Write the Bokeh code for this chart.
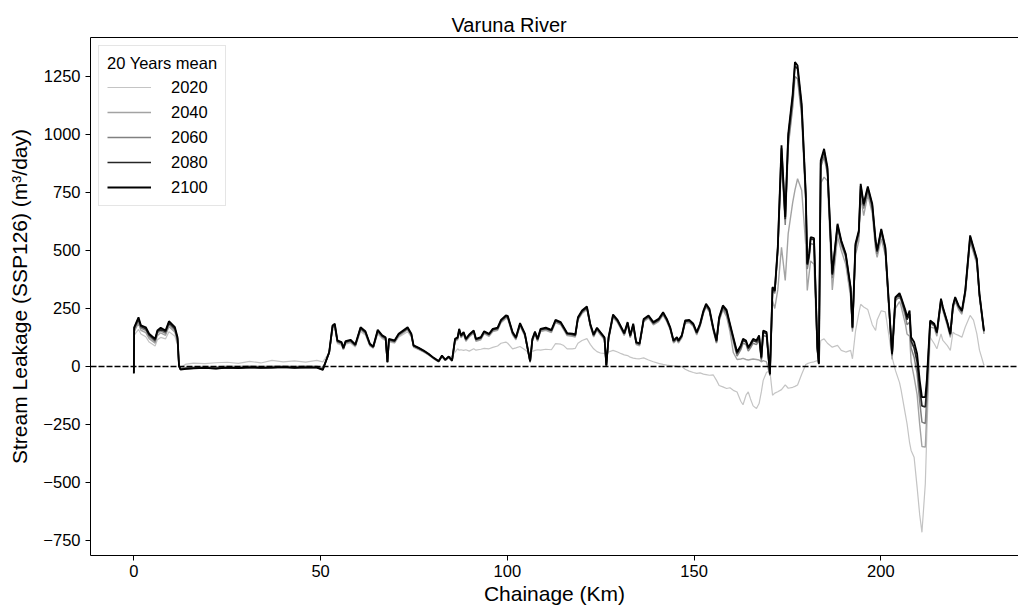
from bokeh.plotting import figure
from bokeh.models import LinearAxis, FixedTicker, Span, Range1d
from bokeh.embed import file_html
from bokeh.resources import INLINE

# Chainage along the river (km)
chainage_km = [
    0, 0.1, 1.25, 1.9, 3.2, 4.1, 5.7, 6.3, 7.2, 8.5, 9.4, 11.0, 11.7, 12.1, 12.5,
    14, 16, 19, 22, 25, 28, 31, 34, 37, 40, 43, 46, 49, 50.6,
    52.3, 53.2, 53.8, 54.5, 55.6, 56.1, 56.7, 58.0, 59.3, 60.7,
    62.0, 63.2, 64.1, 65.3, 66.5, 67.4, 67.9, 68.3, 69.8, 70.9,
    73.3, 74.3, 74.9, 76.3, 77.6, 78.9, 80.3, 81.6, 82.5, 83.4, 84.3, 85.2,
    86.0, 86.7, 87.1, 87.6, 88.3, 88.9, 89.8, 91.0, 91.6, 92.9,
    93.8, 95.1, 96.1, 97.4, 98.3, 99.6, 100.1, 101.4, 102.3, 103.4,
    104.7, 106.1, 106.7, 107.4, 108.1, 108.9, 110.3, 111.8, 112.9, 114.3,
    115.1, 116.0, 117.4, 118.2, 118.9, 120.0, 121.3, 122.2, 123.1, 124.0,
    124.9, 126.0, 126.5, 127.1, 128.3, 129.5, 130.5, 131.3, 132.2, 132.9,
    133.7, 134.5, 135.4, 136.5, 137.8, 139.1, 140.5, 141.7, 142.7, 143.6,
    144.5, 145.4, 145.8, 146.7, 147.6, 148.7, 149.8, 150.7, 151.6, 152.5,
    153.2, 154.1, 155.1, 156.0, 156.7, 157.7, 158.7, 159.6, 160.5, 161.5,
    162.5, 163.1, 163.9, 164.5, 165.1, 165.8, 166.7, 167.4, 168.0, 168.5,
    169.4, 170.3,
    171.0, 171.6, 172.4, 173.4, 174.4, 175.2, 176.4, 177.0, 177.7, 178.8,
    179.9, 180.3, 180.8, 181.2, 182.1, 183.0, 183.4, 183.9, 184.8, 185.7,
    187.0, 188.4, 189.4, 190.6, 191.9, 192.4, 193.2, 194.1, 194.6, 195.4,
    196.5, 197.7, 198.6, 199.0, 200.1, 201.2, 203.0, 203.9, 205.0, 205.4,
    206.6, 207.0, 207.7, 208.1, 208.9, 209.7, 210.4, 211.0, 211.9, 212.3,
    213.2, 214.3, 215.0, 216.1, 216.6, 217.8, 218.6, 219.3, 219.9, 220.8,
    221.7, 222.6, 223.9, 224.8, 225.7, 226.4, 227.6,
]

# Stream leakage, 20-year means (m3/day)
leak_2020 = [
    -15, 135, 160, 140, 128, 105, 88, 115, 125, 119, 150, 130, 92, 0, -5,
    10, 14, 12, 16, 18, 13, 22, 15, 26, 20, 24, 19, 26, 20,
    60, 155, 162, 98, 92, 72, 96, 101, 84, 150,
    135, 88, 78, 140, 120, 112, 20, 106, 100, 126,
    150, 126, 82, 72, 62, 50, 35, 24, 42, 30, 40, 45,
    62, 76, 70, 72, 69, 72, 66, 76, 70, 74,
    78, 76, 82, 88, 100, 105, 100, 76, 80, 86,
    72, 55, 65, 69, 72, 70, 74, 72, 98, 96,
    90, 76, 76, 78, 100, 112, 120, 95, 76, 64,
    58, 56, 52, 62, 69, 62, 55, 50, 47, 40,
    36, 34, 33, 37, 28, 20, 13, 9, 6, 4,
    2, 0, -2, 0, -12, -20, -26, -30, -28, -33,
    -35, -38, -36, -60, -82, -88, -95, -92, -103, -110,
    -150, -165, -124, -110, -140, -170, -181, -160, -110, -60,
    -25, -20,
    -124, -115, -109, -100, -79, -94, -90, -86, -80, -34,
    8, 12, 15, 17, 20, 25, 12, 112, 119, 100,
    83, 91, 69, 62, 69, 33, 150, 230, 268, 256,
    245, 180, 155, 200, 240, 235, 40, -17, -70, -100,
    -210, -246, -330, -362, -391, -520, -640, -715, -506, -290,
    126, 98, 76, 140, 112, 90, 69, 148, 140, 134,
    126, 170, 220, 200, 140, 70, 5,
]

leak_2040 = [
    -22, 150, 186, 156, 146, 120, 100, 133, 145, 134, 172, 147, 106, -2, -8,
    -4, -2, 0, -2, 1, 0, 2, 0, 1, 2, 0, 2, 1, -5,
    56, 165, 171, 103, 96, 73, 100, 105, 87, 157,
    141, 90, 80, 147, 124, 116, 16, 110, 103, 131,
    158, 131, 84, 74, 63, 50, 33, 20, 42, 26, 38, 23,
    108, 115, 150, 123, 137, 108, 127, 144, 108, 115,
    141, 130, 150, 156, 189, 207, 205, 136, 115, 175,
    130, 16, 108, 138, 108, 150, 156, 146, 189, 179,
    158, 133, 130, 127, 200, 228, 246, 172, 127, 156,
    136, 115, 0, 115, 211, 189, 158, 133, 179, 123,
    172, 94, 89, 193, 208, 179, 193, 221, 193, 158,
    101, 115, 101, 123, 186, 189, 172, 136, 172, 228,
    256, 235, 156, 100, 195, 245, 215, 150, 60, 30,
    32, 35, 30, 28, 30, 32, 30, 28, 20, 25,
    20, -40,
    284, 250, 330, 514, 371, 574, 707, 760, 809, 760,
    520, 328, 400, 455, 440, 60, 10, 790, 816, 800,
    330, 560, 500, 440, 300, 150, 480, 540, 730, 650,
    740, 660, 500, 470, 550, 480, 30, 250, 280, 260,
    180, 140, 130, 20, -46, -120, -250, -345, -348, -200,
    170, 165, 130, 270, 240, 175, 125, 245, 280, 245,
    225, 305, 535, 490, 440, 295, 140,
]

leak_2060 = [
    -25, 158, 196, 165, 156, 129, 107, 143, 154, 143, 182, 156, 114, 0, -10,
    -8, -6, -5, -7, -4, -5, -3, -5, -4, -2, -4, -3, -3, -10,
    58, 169, 176, 106, 99, 76, 103, 109, 90, 161,
    145, 93, 82, 151, 128, 120, 17, 113, 106, 135,
    162, 135, 87, 76, 65, 52, 35, 21, 44, 27, 40, 24,
    113, 120, 156, 128, 142, 113, 132, 149, 113, 120,
    146, 135, 156, 161, 194, 213, 211, 142, 120, 180,
    135, 20, 113, 144, 113, 156, 161, 152, 194, 184,
    163, 138, 135, 132, 205, 234, 251, 177, 132, 161,
    142, 120, 3, 120, 217, 194, 163, 138, 184, 128,
    177, 99, 94, 198, 213, 184, 198, 226, 198, 163,
    106, 120, 106, 128, 191, 194, 177, 142, 177, 233,
    261, 240, 160, 103, 200, 250, 228, 165, 108, 45,
    72, 100, 95, 66, 80, 100, 94, 115, 25, 135,
    128, -38,
    330, 315, 490, 900, 610, 950, 1120, 1250, 1240, 1080,
    710, 420, 465, 530, 525, 75, 10, 860, 905, 830,
    380, 595, 525, 470, 330, 160, 510, 565, 765, 680,
    755, 680, 525, 485, 575, 500, 45, 285, 300, 285,
    215, 180, 190, 80, 40, -30, -150, -240, -246, -130,
    185, 175, 140, 282, 248, 183, 133, 254, 290, 254,
    233, 318, 550, 502, 452, 305, 148,
]

leak_2080 = [
    -28, 165, 205, 172, 163, 136, 114, 150, 161, 150, 189, 163, 120, 2, -12,
    -9, -7, -6, -8, -5, -6, -4, -5, -5, -3, -5, -4, -4, -13,
    60, 173, 180, 109, 102, 78, 106, 112, 92, 165,
    148, 95, 84, 154, 131, 123, 18, 116, 109, 138,
    165, 138, 89, 78, 67, 53, 36, 22, 45, 28, 41, 25,
    117, 123, 159, 131, 145, 117, 135, 152, 117, 123,
    149, 138, 159, 164, 197, 216, 214, 145, 123, 183,
    138, 22, 116, 147, 116, 159, 164, 155, 197, 187,
    166, 141, 138, 135, 208, 237, 254, 180, 135, 164,
    145, 123, 4, 123, 220, 197, 166, 141, 187, 131,
    180, 102, 97, 201, 216, 187, 201, 229, 201, 166,
    109, 123, 109, 131, 194, 197, 180, 145, 180, 236,
    265, 244, 165, 108, 207, 257, 238, 178, 120, 56,
    85, 112, 105, 77, 92, 112, 105, 127, 35, 148,
    141, -35,
    338, 324, 508, 940, 635, 990, 1160, 1296, 1282, 1118,
    735, 438, 480, 550, 546, 80, 11, 878, 928, 850,
    395, 608, 537, 480, 338, 166, 522, 579, 778, 694,
    768, 694, 537, 495, 587, 508, 52, 294, 310, 293,
    232, 202, 225, 110, 80, 20, -95, -170, -175, -90,
    192, 180, 145, 288, 252, 188, 138, 259, 295, 259,
    238, 324, 559, 508, 459, 310, 152,
]

leak_2100 = [
    -30, 169, 212, 177, 169, 141, 119, 155, 167, 155, 195, 169, 126, 4, -14,
    -10, -8, -6, -9, -5, -7, -4, -6, -5, -3, -6, -4, -5, -15,
    62, 177, 184, 112, 105, 80, 109, 115, 95, 169,
    152, 98, 86, 158, 134, 126, 19, 119, 112, 141,
    169, 141, 91, 80, 69, 55, 37, 23, 47, 29, 43, 26,
    119, 126, 162, 134, 148, 119, 138, 155, 119, 126,
    152, 141, 162, 167, 201, 220, 218, 148, 126, 187,
    141, 23, 119, 150, 119, 162, 167, 158, 201, 191,
    169, 144, 141, 138, 212, 241, 259, 184, 138, 167,
    148, 126, 4, 126, 224, 201, 169, 144, 191, 134,
    184, 105, 100, 205, 220, 191, 205, 234, 205, 169,
    112, 126, 112, 134, 198, 201, 184, 148, 184, 241,
    270, 249, 169, 112, 212, 263, 244, 184, 126, 62,
    91, 119, 112, 83, 98, 119, 112, 134, 40, 155,
    148, -32,
    342, 328, 514, 953, 644, 1003, 1175, 1312, 1297, 1132,
    744, 443, 486, 557, 553, 83, 12, 888, 938, 859,
    400, 615, 543, 486, 342, 169, 529, 586, 787, 701,
    776, 701, 543, 500, 593, 514, 55, 299, 316, 299,
    241, 213, 241, 126, 105, 55, -60, -132, -132, -60,
    198, 184, 148, 292, 256, 191, 141, 263, 299, 263,
    241, 328, 565, 514, 464, 313, 155,
]

series_labels = ["2020", "2040", "2060", "2080", "2100"]
series_values = [leak_2020, leak_2040, leak_2060, leak_2080, leak_2100]
series_colors = ["#c4c4c4", "#a3a3a3", "#808080", "#262626", "#000000"]
series_widths = [1.2, 1.4, 1.5, 1.7, 1.8]

x_ticks = [0, 50, 100, 150, 200]
y_ticks = [-750, -500, -250, 0, 250, 500, 750, 1000, 1250]

FONT = "Liberation Sans"

p = figure(
    width=1018, height=613,
    output_backend="svg", toolbar_location=None,
    x_range=Range1d(-11.6, 236.85), y_range=Range1d(-815, 1418),
    min_border_left=90, min_border_right=0,
    min_border_top=37, min_border_bottom=58,
    background_fill_color="white", border_fill_color="white",
)
p.outline_line_color = None
p.grid.visible = False

# Title
p.title.text = "Varuna River"
p.title.text_font = FONT
p.title.text_font_size = "20px"
p.title.text_font_style = "normal"
p.title.text_color = "black"
p.title.align = "left"
p.title.offset = 361
p.title.standoff = 4

for label, vals, col, lw in zip(series_labels, series_values, series_colors, series_widths):
    p.line(chainage_km, vals, line_color=col, line_width=lw, legend_label=label)

zero_line = Span(location=0, dimension="width", line_color="black",
                 line_width=1.5, line_dash="6 2")
p.add_layout(zero_line)

# Axes
for ax in (p.xaxis[0], p.yaxis[0]):
    ax.axis_line_color = "black"
    ax.axis_line_width = 1
    ax.major_tick_line_color = "black"
    ax.major_tick_out = 5
    ax.major_tick_in = 0
    ax.minor_tick_line_color = None
    ax.major_label_text_font = FONT
    ax.major_label_text_font_size = "16.5px"
    ax.major_label_text_color = "black"
    ax.axis_label_text_font = FONT
    ax.axis_label_text_font_size = "21px"
    ax.axis_label_text_font_style = "normal"
    ax.axis_label_text_color = "black"

p.xaxis.ticker = FixedTicker(ticks=x_ticks)
p.yaxis.ticker = FixedTicker(ticks=y_ticks)
p.yaxis.major_label_overrides = {
    t: (f"\u2212{abs(t)}" if t < 0 else str(t)) for t in y_ticks
}
p.xaxis.axis_label = "Chainage (Km)"
p.yaxis.axis_label = "Stream Leakage (SSP126) (m\u00b3/day)"
p.xaxis.major_label_standoff = 4
p.xaxis.axis_label_standoff = 2
p.yaxis.major_label_standoff = 5
p.yaxis.axis_label_standoff = 9

# top spine
top_axis = LinearAxis(ticker=FixedTicker(ticks=[]), axis_line_color="black",
                      major_tick_line_color=None, minor_tick_line_color=None,
                      major_label_text_font_size="0px")
p.add_layout(top_axis, "above")

# Legend
lg = p.legend[0]
lg.location = "top_left"
lg.title = "20 Years mean"
lg.title_text_font = FONT
lg.title_text_font_size = "16.5px"
lg.title_text_font_style = "normal"
lg.title_text_color = "black"
lg.title_standoff = 4
lg.label_text_font = FONT
lg.label_text_font_size = "16.5px"
lg.label_text_color = "black"
lg.glyph_width = 44
lg.glyph_height = 20
lg.label_standoff = 20
lg.spacing = 5
lg.padding = 8
lg.margin = 8
lg.border_line_color = "#cccccc"
lg.border_line_width = 1
lg.background_fill_alpha = 0.8

open("out.html", "w").write(file_html(p, INLINE))
